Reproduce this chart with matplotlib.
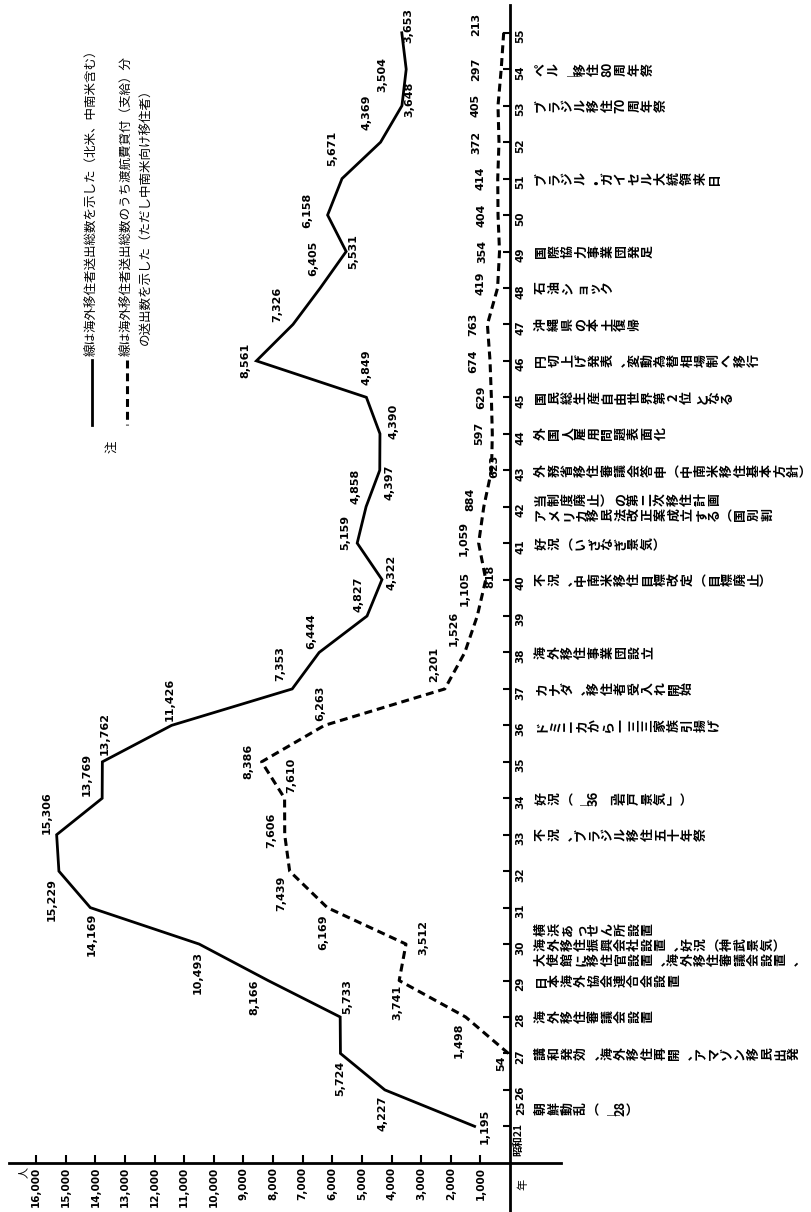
import re
import matplotlib
matplotlib.use("Agg")
import matplotlib.pyplot as plt
from matplotlib.lines import Line2D

plt.rcParams['font.family'] = ['DejaVu Sans', 'Noto Sans CJK JP']
CJK = ['Noto Sans CJK JP', 'DejaVu Sans']

# 海外移住者送出総数 (実線)
years = [21, 26, 27, 28, 29, 30, 31, 32, 33, 34, 35, 36, 37, 38, 39, 40,
         41, 42, 43, 44, 45, 46, 47, 48, 49, 50, 51, 52, 53, 54, 55]
total = [1195, 4227, 5724, 5733, 8166, 10493, 14169, 15229, 15306, 13769, 13762,
         11426, 7353, 6444, 4827, 4322, 5159, 4858, 4397, 4390, 4849, 8561,
         7326, 6405, 5531, 6158, 5671, 4369, 3648, 3504, 3653]

# 渡航費貸付(支給)分 (破線)
loan_years = list(range(27, 56))
loan = [54, 1498, 3741, 3512, 6169, 7439, 7606, 7610, 8386, 6263, 2201, 1526,
        1105, 818, 1059, 884, 623, 597, 629, 674, 763, 419, 354, 404, 414,
        372, 405, 297, 213]

value_ticks = list(range(1000, 17000, 1000))
year_labels = [str(y) for y in range(26, 56)]

events = [
    (25.5, ['朝鮮動乱（｜28）']),
    (27, ['講和発効、海外移住再開、アマゾン移民出発']),
    (28, ['海外移住審議会設置']),
    (29, ['日本海外協会連合会設置']),
    (30, ['横浜あっせん所設置', '海外移住振興会社設置、好況（神武景気）',
          '大使館に移住官設置、海外移住審議会設置、']),
    (33, ['不況、ブラジル移住五十年祭']),
    (34, ['好況（｜36「岩戸景気」）']),
    (36, ['ドミニカから一三三家族引揚げ']),
    (37, ['カナダ、移住者受入れ開始']),
    (38, ['海外移住事業団設立']),
    (40, ['不況、中南米移住目標改定（目標廃止）']),
    (41, ['好況（いざなぎ景気）']),
    (42, ['当制度廃止）の第二次移住計画', 'アメリカ移民法改正案成立する（国別割']),
    (43, ['外務省移住審議会答申（中南米移住基本方針）']),
    (44, ['外国人雇用問題表面化']),
    (45, ['国民総生産自由世界第2位となる']),
    (46, ['円切上げ発表、変動為替相場制へ移行']),
    (47, ['沖縄県の本土復帰']),
    (48, ['石油ショック']),
    (49, ['国際協力事業団発足']),
    (51, ['ブラジル・ガイセル大統領来日']),
    (53, ['ブラジル移住70周年祭']),
    (54, ['ペルー移住80周年祭']),
]

# label offsets in pixels (dx, dy downward)
total_off = [(10, 0), (-2, 23), (0, 25), (7, -20), (-14, 17), (-2, 28), (1, 27),
             (-7, 28), (-10, -22), (-15, -24), (2, -28), (-2, -26), (-12, -25),
             (-8, -21), (-9, -22), (10, -7), (-12, -11), (-11, -20), (10, 12),
             (14, -12), (0, -30), (-11, 0), (-16, -20), (-7, -30), (7, 0),
             (-20, -5), (-10, -30), (-14, -30), (7, -6), (-24, 5), (7, -7)]
loan_off = [(-7, 10), (-7, 23), (-2, 22), (17, -7), (-4, 25), (-8, 22), (-13, -4),
            (7, -23), (-13, 0), (-4, -22), (-11, -24), (-11, -24), (-13, -28),
            (5, -3), (-15, -5), (-13, -7), (3, -4), (-13, 0), (-10, 0), (-17, 0),
            (-14, 0), (-17, -5), (-17, 0), (-17, 0), (-17, 0), (-23, 0),
            (-22, 0), (-25, 0), (-28, -8)]


def ypos(y):
    # 昭和21 is squeezed next to 25/26 on the axis
    return 25.0 if y == 21 else y


# vertical writing forms, the whole page is turned 90 degrees
VERT = {'（': '︵', '）': '︶', '「': '﹁', '」': '﹂', '、': '︑', 'ー': '｜'}

W, H = 812, 1212
fig = plt.figure(figsize=(W / 100, H / 100), dpi=100)
ax = fig.add_axes([0, 0, 1, 1])
ax.set_xlim(17218, -10196)
ax.set_ylim(22.65, 55.90)

ax.plot(total, [ypos(y) for y in years], color='black', lw=2.0,
        solid_joinstyle='miter')
ax.plot(loan, [ypos(y) for y in loan_years], color='black', lw=2.2,
        dashes=(2.6, 1.6))

for v, y, (dx, dy) in zip(total, years, total_off):
    ax.annotate(f'{v:,}', xy=(v, ypos(y)), xytext=(dx, -dy),
                textcoords='offset pixels', rotation=90, ha='center',
                va='center', fontsize=8, fontweight='bold')
for v, y, (dx, dy) in zip(loan, loan_years, loan_off):
    ax.annotate(f'{v:,}', xy=(v, ypos(y)), xytext=(dx, -dy),
                textcoords='offset pixels', rotation=90, ha='center',
                va='center', fontsize=8, fontweight='bold')

# axes: value axis along the bottom, year axis standing at 0
for s in ['top', 'left']:
    ax.spines[s].set_visible(False)
ax.spines['bottom'].set_position(('data', 24.0))
ax.spines['bottom'].set_bounds(-1720, 16930)
ax.spines['right'].set_position(('data', 0))
ax.spines['right'].set_bounds(22.65, 55.76)
for s in ['bottom', 'right']:
    ax.spines[s].set_linewidth(2.0)

ax.set_xticks(value_ticks)
ax.set_xticklabels([f'{t:,}' for t in value_ticks], rotation=90,
                   fontsize=7.5, fontweight='bold')
ax.tick_params(axis='x', direction='in', length=6, width=1.5, pad=3)

ax.yaxis.tick_right()
ax.set_yticks([25.0] + list(range(26, 56)))
ax.set_yticklabels([''] + year_labels, fontsize=7.5, fontweight='bold')
ax.tick_params(axis='y', direction='in', length=5, width=1.5, pad=4,
               labelrotation=90)

ax.annotate('昭和21', xy=(0, 25.0), xytext=(8, 3), textcoords='offset pixels',
            rotation=90, ha='center', va='top', fontsize=7.5,
            fontweight='bold', family=CJK)
ax.annotate('25', xy=(0, 25.5), xytext=(11, 0), textcoords='offset pixels',
            rotation=90, ha='center', va='center', fontsize=7.5,
            fontweight='bold')
ax.annotate('年', xy=(0, 24.0), xytext=(13, -22), textcoords='offset pixels',
            rotation=90, ha='center', va='center', fontsize=8, family=CJK)
ax.annotate('人', xy=(16000, 24.0), xytext=(-12, -10), textcoords='offset pixels',
            rotation=90, ha='center', va='center', fontsize=8, family=CJK)

# event notes, written vertically in the original
step = 13.3
for y, rows in events:
    n = len(rows)
    for k, row in enumerate(rows):
        dy = ((n - 1) / 2 - k) * 15
        for i, tok in enumerate(re.findall(r'\d+|.', row)):
            ax.annotate(VERT.get(tok, tok), xy=(0, y),
                        xytext=(31 + i * step, dy), textcoords='offset pixels',
                        rotation=90, ha='center', va='center', fontsize=9.3,
                        fontweight='bold', family=CJK)

# legend (注)
fig.add_artist(Line2D([92 / W, 92 / W], [1 - 360 / H, 1 - 425 / H],
                      color='black', lw=2.0, transform=fig.transFigure))
fig.add_artist(Line2D([127 / W, 127 / W], [1 - 360 / H, 1 - 425 / H],
                      color='black', lw=2.2, dashes=(2.6, 1.6),
                      transform=fig.transFigure))
fig.text(92 / W, 1 - 356 / H, '線は海外移住者送出総数を示した（北米、中南米含む）',
         rotation=90, ha='center', va='bottom', fontsize=9, family=CJK)
fig.text(127 / W, 1 - 356 / H, '線は海外移住者送出総数のうち渡航費貸付（支給）分',
         rotation=90, ha='center', va='bottom', fontsize=9, family=CJK)
fig.text(146 / W, 1 - 345 / H, 'の送出数を示した（ただし中南米向け移住者）',
         rotation=90, ha='center', va='bottom', fontsize=9, family=CJK)
fig.text(112 / W, 1 - 447 / H, '注', rotation=90, ha='center', va='center',
         fontsize=9, family=CJK)

fig.savefig('out.png', dpi=100)
